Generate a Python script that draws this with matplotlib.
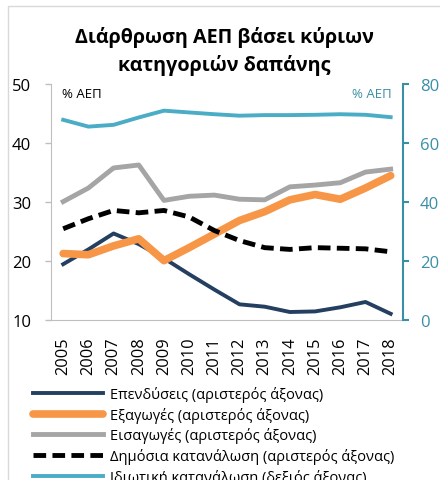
import matplotlib.pyplot as plt
from matplotlib.patches import Rectangle

plt.rcParams['font.family'] = ['Open Sans', 'DejaVu Sans']

years = ['2005', '2006', '2007', '2008', '2009', '2010', '2011',
         '2012', '2013', '2014', '2015', '2016', '2017', '2018']

# αριστερός άξονας
investment = [19.4, 21.9, 24.6, 22.8, 20.4, 17.7, 15.1, 12.6, 12.2, 11.3, 11.4, 12.1, 13.0, 11.0]
exports = [21.2, 21.0, 22.5, 23.7, 20.0, 22.2, 24.5, 26.8, 28.3, 30.3, 31.2, 30.4, 32.3, 34.4]
imports = [30.0, 32.3, 35.7, 36.2, 30.2, 30.9, 31.1, 30.4, 30.3, 32.5, 32.8, 33.2, 35.0, 35.5]
public_cons = [25.4, 27.1, 28.5, 28.1, 28.5, 27.4, 25.1, 23.4, 22.2, 21.9, 22.2, 22.1, 22.0, 21.5]
# δεξιός άξονας
private_cons = [67.7, 65.4, 66.0, 68.5, 70.8, 70.2, 69.6, 69.1, 69.3, 69.3, 69.4, 69.6, 69.4, 68.6]

labels = ['Επενδύσεις (αριστερός άξονας)',
          'Εξαγωγές (αριστερός άξονας)',
          'Εισαγωγές (αριστερός άξονας)',
          'Δημόσια κατανάλωση (αριστερός άξονας)',
          'Ιδιωτική κατανάλωση (δεξιός άξονας)']

teal = '#4BACC6'
teal_dark = '#3A8FA6'
grid_grey = '#BFBFBF'

fig = plt.figure(figsize=(4.4, 4.81), dpi=100)
# λεπτό περίγραμμα γύρω από το γράφημα
fig.patches.append(Rectangle((8 / 440, -0.1), 1.2, 1 - 7 / 481 + 0.1, transform=fig.transFigure,
                             fill=False, edgecolor='#D9D9D9', lw=1))

ax = fig.add_axes([0.115, 0.3333, 0.8015, 0.491])
ax2 = ax.twinx()

x = list(range(len(years)))
l1, = ax.plot(x, investment, color='#243F60', lw=2.8, label=labels[0])
l2, = ax.plot(x, exports, color='#F79646', lw=5.5, label=labels[1], solid_capstyle='round')
l3, = ax.plot(x, imports, color='#A5A5A5', lw=3.5, label=labels[2])
l4, = ax.plot(x, public_cons, color='black', lw=3.5, ls=(0, (2.6, 1.3)), label=labels[3])
l5, = ax2.plot(x, private_cons, color=teal, lw=2.8, label=labels[4])

ax.set_ylim(10, 50)
ax.set_yticks([10, 20, 30, 40, 50])
ax2.set_ylim(0, 80)
ax2.set_yticks([0, 20, 40, 60, 80])
ax.set_xlim(-0.5, len(years) - 0.5)
ax.set_xticks(x)
ax.set_xticklabels(years, rotation=90, fontsize=11.8)

ax.tick_params(axis='y', length=4, width=1, color=grid_grey, labelsize=12, pad=10)
ax.tick_params(axis='x', length=0, pad=12)
ax2.tick_params(axis='y', colors=teal_dark, labelsize=12, length=4, width=1.5, pad=8)

for a in (ax, ax2):
    a.spines['top'].set_visible(False)
ax.spines['left'].set_color(grid_grey)
ax.spines['bottom'].set_color(grid_grey)
ax.spines['right'].set_visible(False)
ax2.spines['left'].set_visible(False)
ax2.spines['bottom'].set_visible(False)
ax2.spines['right'].set_color(teal_dark)
ax2.spines['right'].set_linewidth(1.5)

ax.text(0.033, 0.985, '% ΑΕΠ', transform=ax.transAxes, fontsize=9.5, va='top', ha='left')
ax.text(0.967, 0.985, '% ΑΕΠ', transform=ax.transAxes, fontsize=9.5, va='top', ha='right',
        color=teal_dark)

fig.text(0.51, 0.944, 'Διάρθρωση ΑΕΠ βάσει κύριων\nκατηγοριών δαπάνης', ha='center', va='top',
         fontsize=14.2, fontweight='bold', linespacing=1.42)

fig.legend(handles=[l1, l2, l3, l4, l5], loc='upper left', bbox_to_anchor=(33 / 440, 1 - 387 / 481),
           frameon=False, fontsize=10.5, handlelength=4.8, handletextpad=0.5,
           labelspacing=0.32, borderaxespad=0, borderpad=0)

fig.savefig('out.png', dpi=100)
